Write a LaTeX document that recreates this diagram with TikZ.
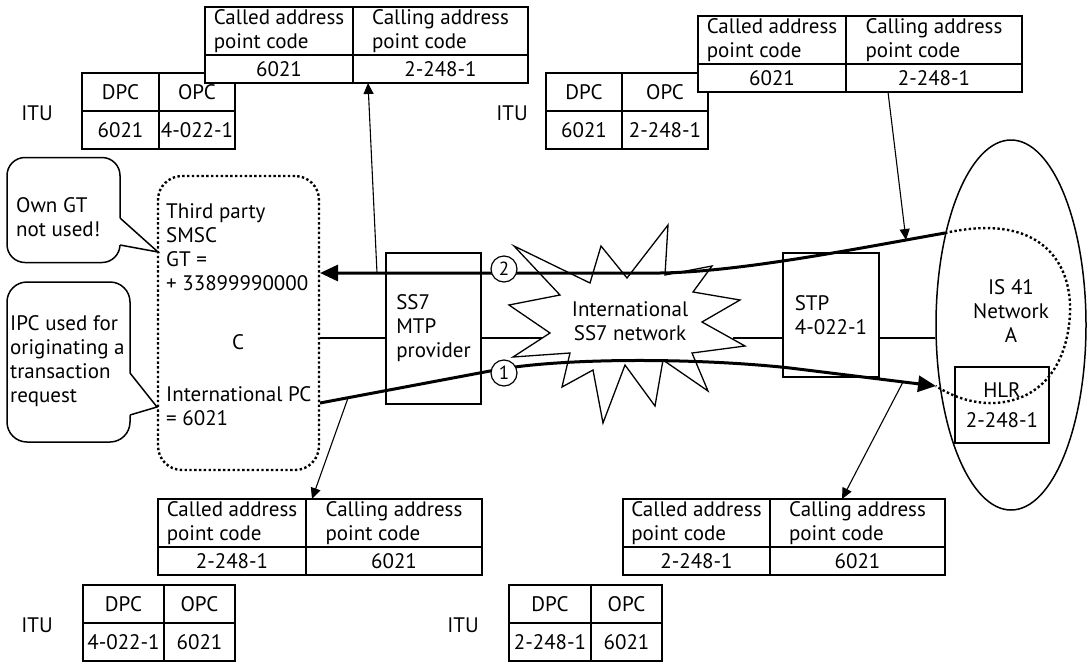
\documentclass[tikz,border=0pt]{standalone}
\usepackage{fontspec}
\setmainfont{PT Sans}
\usetikzlibrary{positioning, shapes.geometric, arrows.meta}

\tikzset{
  cell/.style={draw, fill=white, line width=1.6pt, inner sep=0pt, outer sep=0pt, anchor=north west, align=center},
  headcell/.style={cell, align=left, minimum height=48pt},
  valcell/.style={cell, minimum height=28pt},
  itucell/.style={cell, minimum height=38pt},
  unit/.style={draw, line width=1.5pt, inner sep=0pt, outer sep=0pt},
  txt/.style={inner sep=0pt, align=left},
  link/.style={line width=1.1pt},
  tap/.style={line width=1.1pt, -{Triangle[length=11pt, width=10pt]}},
  msg/.style={line width=3pt, -{Triangle[length=18pt, width=16pt]}},
  dotline/.style={line width=2.4pt, dash pattern=on 2.4pt off 2.4pt},
  seqno/.style={circle, draw, fill=white, line width=1.2pt, minimum size=26pt, inner sep=0pt, font=\fontsize{19}{19}\selectfont}
}

\begin{document}
\begin{tikzpicture}[x=1pt, y=-1pt, font=\fontsize{21}{24}\selectfont]
  \useasboundingbox (0,0) rectangle (1087,662);

  % ITU tables, top
  \node (tlitu) [txt] at (37,113) {ITU};
  \node (tldpc) [itucell, minimum width=77pt] at (82,73) {DPC};
  \node (tlopc) [itucell, minimum width=76pt, right=0pt of tldpc] {OPC};
  \node (tldpcv) [itucell, minimum width=77pt, below=0pt of tldpc] {6021};
  \node (tlopcv) [itucell, minimum width=76pt, below=0pt of tlopc] {4-022-1};

  \node (tritu) [txt] at (512,113) {ITU};
  \node (trdpc) [itucell, minimum width=76pt] at (546,73) {DPC};
  \node (tropc) [itucell, minimum width=86pt, right=0pt of trdpc] {OPC};
  \node (trdpcv) [itucell, minimum width=76pt, below=0pt of trdpc] {6021};
  \node (tropcv) [itucell, minimum width=86pt, below=0pt of tropc] {2-248-1};

  % address tables, top
  \node (tlcd) [headcell, minimum width=148pt] at (205,7) {Called address\\point code};
  \node (tlcg) [headcell, minimum width=175pt, right=0pt of tlcd] {Calling address\\point code};
  \node (tlcdv) [valcell, minimum width=148pt, below=0pt of tlcd] {6021};
  \node (tlcgv) [valcell, minimum width=175pt, below=0pt of tlcg] {2-248-1};

  \node (trcd) [headcell, minimum width=148pt] at (698,16) {Called address\\point code};
  \node (trcg) [headcell, minimum width=176pt, right=0pt of trcd] {Calling address\\point code};
  \node (trcdv) [valcell, minimum width=148pt, below=0pt of trcd] {6021};
  \node (trcgv) [valcell, minimum width=176pt, below=0pt of trcg] {2-248-1};

  % address tables, bottom
  \node (blcd) [headcell, minimum width=148pt] at (158,499) {Called address\\point code};
  \node (blcg) [headcell, minimum width=176pt, right=0pt of blcd] {Calling address\\point code};
  \node (blcdv) [valcell, minimum width=148pt, below=0pt of blcd] {2-248-1};
  \node (blcgv) [valcell, minimum width=176pt, below=0pt of blcg] {6021};

  \node (brcd) [headcell, minimum width=147pt] at (623,499) {Called address\\point code};
  \node (brcg) [headcell, minimum width=175pt, right=0pt of brcd] {Calling address\\point code};
  \node (brcdv) [valcell, minimum width=147pt, below=0pt of brcd] {2-248-1};
  \node (brcgv) [valcell, minimum width=175pt, below=0pt of brcg] {6021};

  % ITU tables, bottom
  \node (blitu) [txt] at (37,625) {ITU};
  \node (bldpc) [itucell, minimum width=81pt] at (83,585) {DPC};
  \node (blopc) [itucell, minimum width=71pt, right=0pt of bldpc] {OPC};
  \node (bldpcv) [itucell, minimum width=81pt, below=0pt of bldpc] {4-022-1};
  \node (blopcv) [itucell, minimum width=71pt, below=0pt of blopc] {6021};

  \node (britu) [txt] at (463,625) {ITU};
  \node (brdpc) [itucell, minimum width=82pt] at (509,585) {DPC};
  \node (bropc) [itucell, minimum width=71pt, right=0pt of brdpc] {OPC};
  \node (brdpcv) [itucell, minimum width=82pt, below=0pt of brdpc] {2-248-1};
  \node (bropcv) [itucell, minimum width=71pt, below=0pt of bropc] {6021};

  % callouts
  \node (owngt) [unit, rounded corners=18pt, minimum width=113pt, minimum height=105pt] at (63.5,210) {};
  \fill[white] (117,218) -- (121,218) -- (158,252) -- (121,245) -- (117,245) -- cycle;
  \draw[line width=1.5pt] (120,218) -- (158,252) -- (120,245);
  \node (owngttxt) [txt, anchor=west] at (16,217) {Own GT\\not used!};

  \node (ipc) [unit, rounded corners=20pt, minimum width=123pt, minimum height=160pt] at (68.5,362) {};
  \fill[white] (127,373) -- (131,373) -- (157,407) -- (131,415) -- (127,415) -- cycle;
  \draw[line width=1.5pt] (130,373) -- (157,407) -- (130,415);
  \node (ipctxt) [txt, anchor=west] at (10,361) {IPC used for\\originating a\\transaction\\request};

  % SMSC
  \node (smsc) [draw, dotline, rounded corners=24pt, minimum width=161pt, minimum height=294pt, inner sep=0pt] at (238.5,323) {};
  \node (smscgt) [txt, anchor=west] at (166,247) {Third party\\SMSC\\GT =\\+ 33899990000};
  \node (smscc) [txt] at (238,342) {C};
  \node (smscpc) [txt, anchor=west] at (166,406) {International PC\\= 6021};

  % network elements
  \node (mtp) [unit, minimum width=95pt, minimum height=151pt, align=left] at (433.5,328.5) {SS7\\MTP\\provider};
  \node (stp) [unit, minimum width=96pt, minimum height=124pt, align=left] at (831,315) {STP\\4-022-1};
  \node (neta) [draw, ellipse, line width=1.5pt, minimum width=150pt, minimum height=370pt, inner sep=0pt] at (1011,325) {};
  \node (netatxt) [txt, align=center] at (1011,311) {IS 41\\Network\\A};
  \node (hlr) [unit, fill=white, minimum width=94pt, minimum height=76pt, align=center] at (1002,405) {HLR\\[6pt]2-248-1};

  \coordinate (lvl) at (0,338);
  \coordinate (burstw) at (546,338);
  \coordinate (burste) at (733,338);
  \draw[link] (smsc.east |- lvl) -- (mtp.west |- lvl);
  \draw[link] (mtp.east |- lvl) -- (burstw);
  \draw[link] (burste) -- (stp.west |- lvl);
  \draw[link] (stp.east |- lvl) -- (neta.west |- lvl);

  % international network cloud
  \draw[line width=1.3pt, fill=white] (514,246) -- (560,295) -- (509,305) -- (550,333) -- (513,357) -- (570,353) -- (562,387) -- (593,370) -- (603,423) -- (625,365) -- (655,406) -- (663,360) -- (708,391) -- (692,353) -- (745,346) -- (702,322) -- (740,300) -- (693,292) -- (712,266) -- (665,275) -- (668,225) -- (627,278) -- (601,246) -- (590,283) -- cycle;
  \node (intl) [txt, align=center] at (630,321) {International\\SS7 network};

  % messages
  \coordinate (hlrout) at (945,233);
  \coordinate (hlrin) at (936,386);
  \coordinate (gtin) at (320,273);
  \coordinate (pcout) at (320,403);
  \draw[dotline] (hlrout) .. controls (1040,212) and (1072,262) .. (1070,313) .. controls (1068,360) and (1045,400) .. (995,403) .. controls (970,404) and (950,395) .. (hlrin);
  \draw[msg] (hlrout) .. controls (860,248) and (740,272) .. (660,273) -- (gtin);
  \draw[msg] (pcout) -- (490,371) .. controls (560,357) and (700,358) .. (790,368) -- (hlrin);
  \node (no2) [seqno] at (504,269) {2};
  \node (no1) [seqno] at (504,373) {1};

  \coordinate (tapa) at (377,273);
  \coordinate (tapb) at (906,240);
  \coordinate (tapc) at (348,398);
  \coordinate (tapd) at (903,382);
  \draw[tap] (tapa) -- ([xshift=15pt]tlcgv.south west);
  \draw[tap] ([xshift=42pt]trcgv.south west) -- (tapb);
  \draw[tap] (tapc) -- ([xshift=6pt]blcg.north west);
  \draw[tap] (tapd) -- ([xshift=72pt]brcg.north west);
\end{tikzpicture}
\end{document}
